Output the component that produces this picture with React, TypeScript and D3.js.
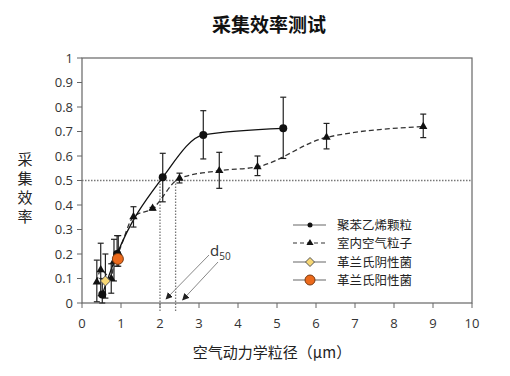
import React from "react";
import * as d3 from "d3";

const xTicks = [0, 1, 2, 3, 4, 5, 6, 7, 8, 9, 10];
const yTicks = [0, 0.1, 0.2, 0.3, 0.4, 0.5, 0.6, 0.7, 0.8, 0.9, 1];

// 聚苯乙烯颗粒 (polystyrene)
const psX = [0.52, 0.9, 2.07, 3.11, 5.16];
const psY = [0.035, 0.2, 0.513, 0.686, 0.713];
const psLo = [0.0, 0.15, 0.413, 0.588, 0.59];
const psHi = [0.1, 0.275, 0.611, 0.785, 0.84];

// 室内空气粒子 (indoor air particles)
const inX = [0.38, 0.48, 0.75, 0.82, 0.93, 1.32, 1.81, 2.5, 3.52, 4.5, 6.27, 8.75];
const inY = [0.085, 0.135, 0.1, 0.17, 0.205, 0.352, 0.386, 0.509, 0.54, 0.556, 0.676, 0.72];
const inLo = [0.005, 0.03, 0.04, 0.09, 0.15, 0.31, 0.38, 0.49, 0.468, 0.52, 0.629, 0.675];
const inHi = [0.175, 0.244, 0.16, 0.26, 0.275, 0.393, 0.39, 0.53, 0.615, 0.6, 0.733, 0.771];

// 革兰氏阴性菌 / 革兰氏阳性菌
const gnX = [0.6];
const gnY = [0.09];
const gnLo = [0.02];
const gnHi = [0.2];
const gpX = [0.92];
const gpY = [0.18];

const d50 = [2.0, 2.4];
const legendLabels = ["聚苯乙烯颗粒", "室内空气粒子", "革兰氏阴性菌", "革兰氏阳性菌"];

const W = 510, H = 376;
const L = 82, R = 472, T = 58, B = 303;
const cjk = "'Noto Sans CJK SC', sans-serif";
const num = "'Open Sans', 'Liberation Sans', sans-serif";

export default function App() {
  const x = d3.scaleLinear().domain([0, 10]).range([L, R]);
  const y = d3.scaleLinear().domain([0, 1]).range([B, T]);

  const solid = d3
    .line<[number, number]>()
    .x((d) => x(d[0]))
    .y((d) => y(d[1]))
    .curve(d3.curveMonotoneX);
  const psPts: [number, number][] = psX.map((v, i) => [v, psY[i]]);
  const inPts: [number, number][] = inX.map((v, i) => [v, inY[i]]);

  const tri = d3.symbol().type(d3.symbolTriangle).size(30);
  const triSmall = d3.symbol().type(d3.symbolTriangle).size(22);

  const errBar = (xv: number, lo: number, hi: number, key: string) => (
    <g key={key} stroke="#222" strokeWidth={1.2}>
      <line x1={x(xv)} x2={x(xv)} y1={y(lo)} y2={y(hi)} />
      <line x1={x(xv) - 3} x2={x(xv) + 3} y1={y(lo)} y2={y(lo)} />
      <line x1={x(xv) - 3} x2={x(xv) + 3} y1={y(hi)} y2={y(hi)} />
    </g>
  );

  const legY = [225, 243, 262, 280];

  return (
    <svg width={W} height={H} style={{ position: "absolute", left: 0, top: 0, background: "#fff" }}>
      <defs>
        <marker id="ah" viewBox="0 0 10 10" refX="9" refY="5" markerWidth="7" markerHeight="7" orient="auto">
          <path d="M0,0 L10,5 L0,10 z" fill="#222" />
        </marker>
      </defs>
      <text x={269} y={32} textAnchor="middle" fontFamily={cjk} fontWeight="bold" fontSize={19} fill="#111">
        采集效率测试
      </text>
      {["采", "集", "效", "率"].map((c, i) => (
        <text key={c} x={25} y={165 + i * 19} textAnchor="middle" fontFamily={cjk} fontSize={15} fill="#222">
          {c}
        </text>
      ))}
      <text x={272} y={358} textAnchor="middle" fontFamily={cjk} fontSize={15} fill="#222">
        空气动力学粒径（μm）
      </text>

      {/* frame */}
      <rect x={L} y={T} width={R - L} height={B - T} fill="none" stroke="#666" strokeWidth={1.2} />
      {yTicks.map((t) => (
        <g key={"y" + t}>
          <line x1={L - 5} x2={L} y1={y(t)} y2={y(t)} stroke="#666" />
          <text x={L - 9} y={y(t) + 4.5} textAnchor="end" fontFamily={num} fontSize={13} fill="#333">
            {t === 0 || t === 1 ? String(t) : t.toFixed(1)}
          </text>
        </g>
      ))}
      {xTicks.map((t) => (
        <g key={"x" + t}>
          <line x1={x(t)} x2={x(t)} y1={B} y2={B + 5} stroke="#666" />
          <text x={x(t)} y={B + 25} textAnchor="middle" fontFamily={num} fontSize={13} fill="#333">
            {t}
          </text>
        </g>
      ))}

      {/* d50 guide lines */}
      <line x1={L} x2={R} y1={y(0.5)} y2={y(0.5)} stroke="#777" strokeWidth={1.3} strokeDasharray="1.5,1.5" />
      {d50.map((d) => (
        <line key={"d" + d} x1={x(d)} x2={x(d)} y1={y(0.5)} y2={B + 9} stroke="#777" strokeWidth={1.3} strokeDasharray="1.5,1.5" />
      ))}
      <line x1={209} y1={255} x2={x(d50[0]) + 6} y2={299} stroke="#888" strokeWidth={1} markerEnd="url(#ah)" />
      <line x1={218} y1={262} x2={x(d50[1]) + 7} y2={300} stroke="#888" strokeWidth={1} markerEnd="url(#ah)" />
      <text x={210} y={256} fontFamily={num} fontSize={15} fill="#333">
        d<tspan fontSize={10} dy={4}>50</tspan>
      </text>

      {/* lines */}
      <path d={solid(inPts) || ""} fill="none" stroke="#333" strokeWidth={1.3} strokeDasharray="5,3" />
      <path d={solid(psPts) || ""} fill="none" stroke="#111" strokeWidth={1.3} />

      {/* error bars */}
      {inX.map((v, i) => errBar(v, inLo[i], inHi[i], "ie" + i))}
      {psX.map((v, i) => errBar(v, psLo[i], psHi[i], "pe" + i))}
      {gnX.map((v, i) => errBar(v, gnLo[i], gnHi[i], "ge" + i))}

      {/* markers */}
      {inX.map((v, i) => (
        <path key={"it" + i} d={tri() || ""} transform={`translate(${x(v)},${y(inY[i])})`} fill="#111" />
      ))}
      {psX.map((v, i) => (
        <circle key={"pc" + i} cx={x(v)} cy={y(psY[i])} r={4} fill="#111" />
      ))}
      {gnX.map((v, i) => (
        <path key={"gn" + i} d={`M0,-5L5,0L0,5L-5,0Z`} transform={`translate(${x(v)},${y(gnY[i])})`} fill="#f7d774" stroke="#555" strokeWidth={1} />
      ))}
      {gpX.map((v, i) => (
        <circle key={"gp" + i} cx={x(v)} cy={y(gpY[i])} r={5.5} fill="#ec6a1c" stroke="#7a3a10" strokeWidth={1} />
      ))}

      {/* legend */}
      {legendLabels.map((lab, i) => (
        <g key={lab}>
          <line x1={293} x2={326} y1={legY[i]} y2={legY[i]} stroke={i === 1 ? "#333" : "#666"} strokeWidth={1.2} strokeDasharray={i === 1 ? "4,3" : undefined} />
          {i === 0 && <circle cx={310} cy={legY[i]} r={2.5} fill="#111" />}
          {i === 1 && <path d={triSmall() || ""} transform={`translate(310,${legY[i]})`} fill="#111" />}
          {i === 2 && <path d="M0,-4.5L4.5,0L0,4.5L-4.5,0Z" transform={`translate(310,${legY[i]})`} fill="#f7d774" stroke="#555" />}
          {i === 3 && <circle cx={310} cy={legY[i]} r={5} fill="#ec6a1c" stroke="#7a3a10" />}
          <text x={337} y={legY[i] + 4.5} fontFamily={cjk} fontSize={12.5} fill="#222">
            {lab}
          </text>
        </g>
      ))}
    </svg>
  );
}
